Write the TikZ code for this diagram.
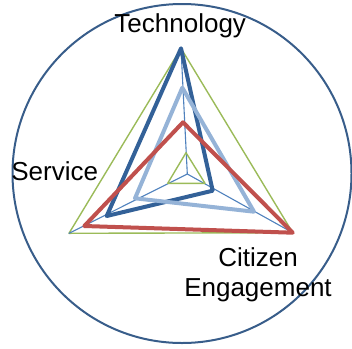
\documentclass[tikz,border=0pt]{standalone}
\usepackage{fontspec}
\setmainfont{Liberation Sans}
\definecolor{ringblue}{HTML}{385D8A}
\definecolor{axisblue}{HTML}{4F81BD}
\definecolor{darkblue}{HTML}{336198}
\definecolor{lightblue}{HTML}{95B3D7}
\definecolor{redline}{HTML}{C0504D}
\definecolor{greenline}{HTML}{9BBB59}
\tikzset{
  axisline/.style={axisblue, line width=1.1pt},
  gridline/.style={greenline, line width=1.4pt},
  series/.style={line width=4pt},
  lbl/.style={inner sep=0pt, anchor=base, font=\fontsize{26}{30.7}\selectfont}
}
\begin{document}
\begin{tikzpicture}[x=1pt, y=-1pt, line join=round, line cap=round]
		\useasboundingbox (0,0) rectangle (352,348);
		% Achsen
		\coordinate (O) at (187.3,174);
		\coordinate (Tech) at (181,48.3);
		\coordinate (Serv) at (69,233.3);
		\coordinate (Citi) at (292.7,232.7);
		\draw[ringblue, line width=2pt] (182,173.5) circle (169.5);
		\draw[gridline] (Tech)--(Serv)--(Citi)--cycle;
		\draw[axisline] (O)--(Tech) (O)--(Serv) (O)--(Citi);
		% Reihen
		\draw[series, darkblue] (Tech)--(212.7,190.7)--(106.7,216)--cycle;
		\draw[series, lightblue] (182.3,87.7)--(254,211.7)--(135,198.3)--cycle;
		\draw[series, redline] (183,122.3)--(Citi)--(84.3,226)--cycle;
		\draw[gridline] (186,152.7)--(205,183.3)--(167.7,183.3)--cycle;
		% Beschriftung
		\node[lbl] (techlabel) at (180.2,32.3) {Technology};
		\node[lbl] (servlabel) at (54.7,180) {Service};
		\node[lbl, align=center] (citilabel) at (258,296.7) {Citizen\\Engagement};
\end{tikzpicture}
\end{document}
